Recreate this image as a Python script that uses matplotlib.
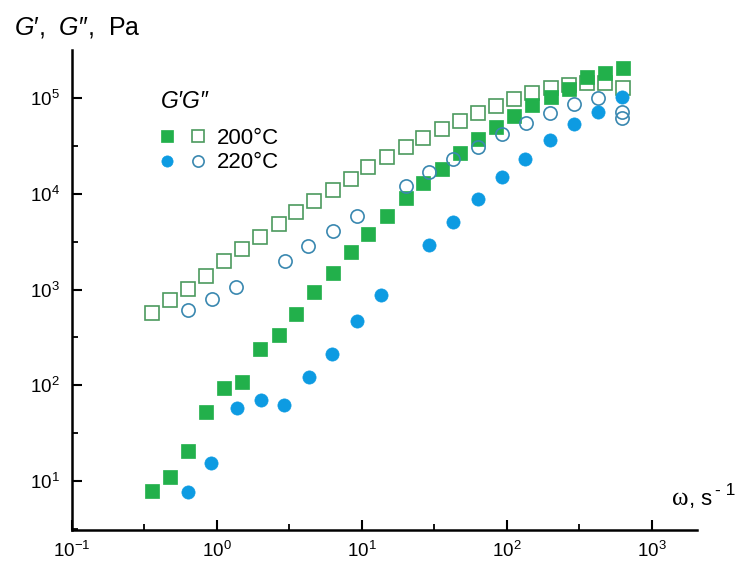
import matplotlib
matplotlib.use("Agg")
import matplotlib.pyplot as plt
from matplotlib.ticker import LogLocator, NullFormatter
from matplotlib.legend_handler import HandlerTuple

plt.rcParams['font.family'] = ['Liberation Sans', 'DejaVu Sans']
plt.rcParams['mathtext.fontset'] = 'custom'
plt.rcParams['mathtext.rm'] = 'Liberation Sans'
plt.rcParams['mathtext.it'] = 'Liberation Sans:italic'

# 200 C, storage (G') and loss (G'') moduli
w_200 = [0.356, 0.474, 0.634, 0.84, 1.12, 1.50, 1.99, 2.67, 3.53, 4.67, 6.28, 8.39, 11.1,
         14.9, 20.1, 26.5, 35.5, 47.5, 63.1, 84.0, 112, 150, 200, 267, 355, 474, 634]
g1_200 = [7.8, 10.9, 20.4, 53, 93, 108, 237, 332, 559, 953, 1494, 2448, 3832, 5800, 9020,
          12800, 18200, 26900, 37100, 49500, 64500, 85000, 103000, 124000, 164000, 184000, 206000]
g2_200 = [572, 774, 1020, 1376, 1971, 2655, 3506, 4834, 6385, 8317, 11000, 14160, 18800,
          24480, 30650, 38560, 47880, 57570, 69300, 82500, 96900, 112000, 127000, 138000,
          144000, 143000, 126000]

# 220 C
w1_220 = [0.634, 0.905, 1.37, 2.01, 2.91, 4.31, 6.24, 9.29, 13.5, 29.1, 42.6, 63.4, 91.9,
          133, 198, 291, 426, 627]
g1_220 = [7.6, 15.3, 58.6, 69.8, 63, 121, 210, 467, 887, 2930, 5050, 8810, 14800, 23000,
          36500, 53600, 71400, 101700]
w2_220 = [0.634, 0.92, 1.35, 2.95, 4.24, 6.27, 9.27, 20.0, 29.1, 42.6, 63.1, 91.9, 135,
          198, 291, 426, 627, 627]
g2_220 = [604, 800, 1067, 2005, 2873, 4066, 5830, 12100, 16960, 22970, 31100, 42200, 54900,
          70100, 86600, 99300, 70900, 61900]

green = '#22b04b'
green_edge = '#4c9a5e'
blue = '#0d9be2'
blue_edge = '#3a88b0'

W, H = 742, 563


def fx(px):
    return px / W


def fy(py):
    return 1 - py / H


fig = plt.figure(figsize=(7.42, 5.63), dpi=100)
ax = fig.add_axes([0.097, 0.059, 0.842, 0.852])

ms = 9.5
h_g2_200, = ax.plot(w_200, g2_200, 's', ms=ms, mfc='white', mec=green_edge, mew=1.2, ls='none')
h_g1_200, = ax.plot(w_200, g1_200, 's', ms=ms, mfc=green, mec=green, mew=0.5, ls='none')
h_g2_220, = ax.plot(w2_220, g2_220, 'o', ms=ms, mfc='none', mec=blue_edge, mew=1.2, ls='none')
h_g1_220, = ax.plot(w1_220, g1_220, 'o', ms=ms, mfc=blue, mec=blue, mew=0.5, ls='none')

ax.set_xscale('log')
ax.set_yscale('log')
ax.set_xlim(0.1, 2040)
ax.set_ylim(3.1, 3.16e5)

for axis in (ax.xaxis, ax.yaxis):
    axis.set_major_locator(LogLocator(base=10, numticks=12))
    axis.set_minor_locator(LogLocator(base=10, subs=(10 ** 0.5,), numticks=12))
    axis.set_minor_formatter(NullFormatter())

ax.spines['top'].set_visible(False)
ax.spines['right'].set_visible(False)
for side in ('left', 'bottom'):
    ax.spines[side].set_linewidth(1.8)
ax.tick_params(which='major', direction='in', length=7, width=1.5, labelsize=13.5)
ax.tick_params(axis='x', which='major', pad=8)
ax.tick_params(axis='y', which='major', pad=9)
ax.tick_params(which='minor', direction='in', length=4, width=1.3)

# axis captions
fig.text(fx(14), fy(34), "$G$′,  $G$″,  Pa", fontsize=18, va='baseline')
fig.text(fx(672), fy(505), "ω", fontsize=18, family='Liberation Serif', va='baseline')
fig.text(fx(689), fy(505), ",", fontsize=16, va='baseline')
fig.text(fx(700), fy(505), "s", fontsize=16, va='baseline')
fig.text(fx(715), fy(495), "- 1", fontsize=12.5, va='baseline')

# legend: filled = G', open = G''
fig.text(fx(161), fy(101), "G′G″", fontsize=16.5, style='italic', va='center')
ax.legend([(h_g1_200, h_g2_200), (h_g1_220, h_g2_220)], ['200°C', '220°C'],
          handler_map={tuple: HandlerTuple(ndivide=None, pad=0.68)},
          fontsize=16, frameon=False, handlelength=2.12, handletextpad=0.5,
          labelspacing=0.15, markerscale=0.85,
          loc='upper left', bbox_to_anchor=(fx(159), fy(128)),
          bbox_transform=fig.transFigure, borderpad=0, borderaxespad=0)

fig.savefig('out.png', dpi=100)
